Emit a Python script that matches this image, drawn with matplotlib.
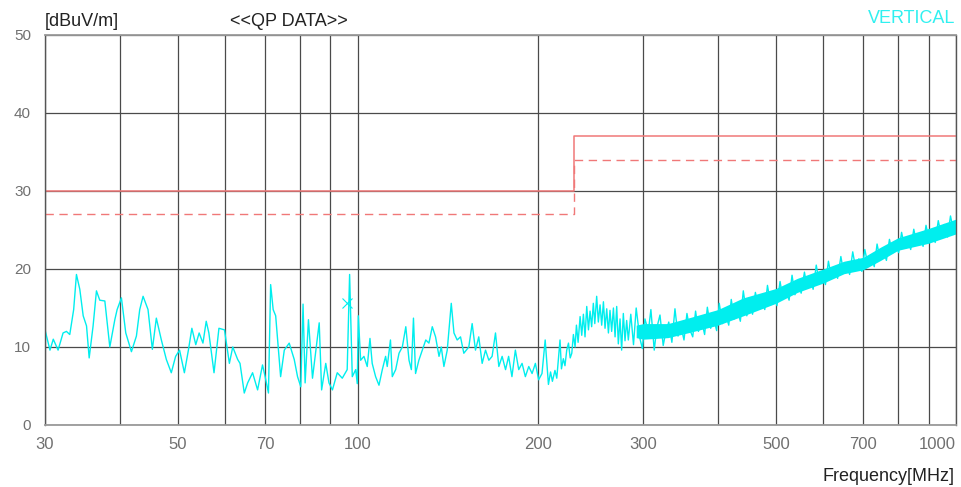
#!/usr/bin/env python3
"""EMI radiated emission plot, QP data, vertical polarisation."""

import matplotlib
matplotlib.use("Agg")
import matplotlib.pyplot as plt

plt.rcParams['font.family'] = ['Liberation Sans', 'DejaVu Sans']

# limit lines (class B style): solid = limit, dashed = margin
limit_freq = [30, 230, 230, 1000]
limit_level = [30, 30, 37, 37]
margin_level = [27, 27, 34, 34]

# measured trace, 30 - 100 MHz
low_freq = [30.0, 30.58, 30.97, 31.55, 32.16, 32.58, 33.0, 33.5, 33.86, 34.3,
            34.75, 35.2, 35.56, 36.1, 36.57, 37.04, 37.77, 38.5, 39.25, 39.6,
            40.26, 40.94, 41.84, 42.65, 43.2, 43.76, 44.6, 45.35, 46.05, 46.95,
            47.86, 48.78, 49.6, 50.36, 51.3, 52.1, 52.8, 53.6, 54.3, 55.1,
            55.8, 56.37, 57.5, 58.6, 59.86, 61.0, 61.8, 62.98, 63.55, 64.6,
            65.45, 66.7, 68.0, 69.3, 70.0, 70.9, 71.5, 72.2, 72.9, 74.3,
            75.36, 76.8, 78.3, 79.3, 80.3, 81.0, 81.65, 82.7, 84.0, 85.1,
            86.2, 87.0, 88.4, 89.5, 90.7, 92.4, 94.2, 96.0, 96.9, 97.9,
            99.2]
low_level = [12.2, 9.6, 11.0, 9.6, 11.8, 12.0, 11.6, 14.8, 19.3, 17.4,
             14.0, 12.7, 8.6, 12.7, 17.2, 16.0, 15.9, 10.0, 13.5, 14.8,
             16.3, 11.8, 9.4, 11.4, 14.8, 16.5, 14.8, 9.7, 13.7, 10.9,
             8.4, 6.7, 8.8, 9.6, 6.7, 9.6, 12.4, 10.3, 11.8, 10.5,
             13.3, 11.8, 6.7, 12.4, 12.2, 7.9, 10.0, 8.4, 7.9, 4.1,
             5.4, 6.7, 4.5, 7.7, 6.2, 4.1, 18.0, 14.8, 14.0, 6.2,
             9.6, 10.5, 8.4, 6.2, 4.9, 15.5, 5.4, 13.5, 6.0, 9.6,
             13.1, 4.5, 7.9, 5.4, 4.5, 6.7, 6.0, 7.1, 19.3, 6.2,
             7.1]

# measured trace, 100 - 285 MHz
mid_freq = [99.8, 100.2, 101.1, 102.4, 103.7, 104.8, 105.7, 107.1, 108.5, 109.9,
            111.3, 112.0, 113.4, 114.2, 115.7, 117.2, 118.7, 120.3, 121.8, 122.9,
            123.9, 124.9, 126.5, 128.2, 129.9, 131.5, 133.2, 134.9, 136.7, 137.9,
            139.3, 141.1, 143.3, 144.8, 146.6, 148.5, 150.4, 153.3, 155.3, 157.3,
            159.3, 161.4, 163.5, 165.6, 167.7, 169.9, 172.1, 174.3, 176.6, 178.7,
            181.0, 183.4, 185.8, 188.2, 190.6, 193.1, 195.6, 198.1, 200.6, 203.2,
            205.7, 208.3, 210.0, 211.5, 213.6, 215.1, 217.8, 219.0, 220.6, 222.0,
            223.5, 225.0, 226.5, 227.9, 229.3, 230.8, 232.0, 233.5, 235.3, 236.8,
            238.3, 239.8, 241.4, 243.0, 244.5, 246.0, 247.6, 249.0, 250.8, 252.4,
            254.1, 255.7, 257.4, 259.0, 260.7, 262.4, 264.0, 265.7, 267.5, 269.2,
            270.9, 272.6, 274.4, 276.1, 277.9, 279.7, 281.5, 283.3]
mid_level = [5.3, 14.0, 8.3, 8.8, 7.5, 11.1, 7.9, 6.2, 5.1, 7.1,
             8.8, 7.5, 10.9, 6.2, 7.1, 9.2, 10.0, 12.6, 8.3, 7.1,
             13.7, 6.6, 8.3, 9.6, 10.9, 10.5, 12.6, 11.3, 8.8, 10.0,
             7.5, 9.6, 15.6, 11.8, 10.9, 11.3, 9.2, 10.0, 13.0, 9.6,
             11.3, 7.9, 9.6, 8.3, 8.8, 11.8, 7.5, 8.8, 7.1, 8.8,
             6.2, 9.6, 7.1, 7.9, 6.2, 7.5, 6.6, 7.9, 5.8, 6.6,
             10.9, 5.2, 6.8, 5.6, 7.0, 6.0, 10.9, 7.2, 8.5, 7.6,
             9.6, 10.5, 8.6, 9.2, 11.6, 10.0, 12.8, 10.6, 13.9, 11.5,
             14.2, 11.3, 15.2, 12.2, 14.6, 12.6, 15.6, 13.0, 16.5, 13.2,
             15.4, 12.8, 15.8, 12.4, 14.9, 11.8, 14.7, 12.0, 15.0, 11.3,
             15.2, 10.4, 13.6, 9.6, 14.3, 10.8, 13.4, 10.9]

# measured trace, 285 - 1000 MHz (dense noise band)
band_freq = [286, 289, 292, 296, 299, 302, 306, 309, 313, 316, 320, 324, 327, 331,
             335, 339, 343, 347, 351, 355, 359, 363, 367, 371, 376, 380, 384, 389,
             393, 398, 402, 407, 412, 417, 421, 426, 431, 436, 441, 447, 452, 457,
             462, 468, 473, 479, 484, 490, 496, 502, 508, 514, 520, 526, 532, 538,
             545, 551, 558, 564, 571, 577, 584, 591, 598, 605, 612, 619, 627, 634,
             642, 649, 657, 664, 672, 680, 688, 696, 704, 713, 721, 730, 738, 747,
             756, 765, 774, 783, 792, 802, 811, 821, 830, 840, 850, 860, 870, 881,
             891, 902, 912, 923, 934, 945, 956, 968, 979, 991, 1000]
band_level = [14.2, 10.3, 15.0, 11.2, 9.8, 13.6, 12.0, 14.8, 9.6, 12.4, 14.1, 10.2, 11.8, 13.2,
              10.6, 14.9, 11.4, 12.6, 10.9, 14.3, 12.2, 11.3, 14.6, 12.0, 13.2, 11.6, 15.1, 12.4,
              13.8, 12.1, 15.6, 13.0, 14.2, 12.8, 16.1, 13.6, 14.8, 13.3, 17.2, 14.0, 15.6, 14.2,
              17.0, 15.0, 16.0, 14.8, 17.9, 15.4, 16.9, 15.3, 18.4, 16.1, 17.2, 16.0, 19.2, 16.7,
              18.0, 16.9, 19.6, 17.6, 18.8, 17.4, 20.5, 18.1, 19.6, 18.0, 21.0, 18.9, 20.2, 18.8,
              21.6, 19.5, 20.8, 19.3, 22.2, 20.0, 21.3, 19.7, 22.5, 20.4, 21.8, 20.3, 23.2, 21.2,
              22.4, 21.1, 23.8, 22.0, 23.2, 22.1, 24.7, 22.7, 23.9, 22.5, 25.1, 23.2, 24.4, 22.9,
              25.6, 23.6, 25.0, 23.4, 26.2, 24.3, 25.7, 24.1, 26.8, 24.8, 26.0]

# solid core of the noise band
core_freq = [292, 300, 330, 360, 400, 441, 500, 543, 600, 650, 700, 748, 800, 900, 1000]
core_lo = [11.2, 11.0, 11.2, 11.9, 12.8, 14.0, 15.6, 17.0, 18.2, 19.4, 19.9, 21.1, 22.4, 23.3, 24.5]
core_hi = [12.8, 13.0, 13.0, 13.8, 14.8, 16.3, 17.5, 18.8, 20.0, 21.0, 21.5, 22.8, 24.0, 25.2, 26.4]

# QP marker
marker_freq = [96.0]
marker_level = [15.6]

grid_freq = [30, 40, 50, 60, 70, 80, 90, 100, 200, 300, 400, 500, 600, 700, 800, 900, 1000]
labelled_freq = [30, 50, 70, 100, 200, 300, 500, 700, 1000]
y_ticks = [0, 10, 20, 30, 40, 50]

TRACE = '#00eeee'
LIMIT = '#f07878'


def main():
    fig = plt.figure(figsize=(9.61, 4.87), dpi=100)
    ax = fig.add_axes([45 / 961, 62 / 487, 911 / 961, 390 / 487])

    ax.set_xscale('log')
    ax.set_xlim(30, 1000)
    ax.set_ylim(0, 50)

    ax.set_xticks(grid_freq)
    ax.set_xticklabels([str(f) if f in labelled_freq else '' for f in grid_freq])
    ax.xaxis.set_minor_locator(plt.NullLocator())
    ax.set_yticks(y_ticks)
    ax.tick_params(axis='x', length=0, pad=8.5, labelsize=12, labelcolor='#707070')
    ax.tick_params(axis='y', length=0, pad=10, labelsize=11, labelcolor='#707070')
    # the last frequency label sits inside the frame
    ax.get_xticklabels()[-1].set_horizontalalignment('right')
    ax.grid(True, color='#4a4a4a', lw=0.9)
    ax.set_axisbelow(True)

    for side in ['top', 'bottom']:
        ax.spines[side].set_color('#9a9a9a')
        ax.spines[side].set_linewidth(1.3)
    for side in ['left', 'right']:
        ax.spines[side].set_color('#555555')
        ax.spines[side].set_linewidth(1.0)

    ax.plot(limit_freq, limit_level, color=LIMIT, lw=1.1)
    ax.plot(limit_freq, margin_level, color=LIMIT, lw=1.0, ls=(0, (6, 4)))

    ax.fill_between(core_freq, core_lo, core_hi, color=TRACE, lw=0)
    ax.plot(low_freq + mid_freq + band_freq, low_level + mid_level + band_level,
            color=TRACE, lw=1.0)
    ax.plot(marker_freq, marker_level, 'x', color=TRACE, ms=7, mew=0.8)

    fig.text(45 / 961, 1 - 26.5 / 487, '[dBuV/m]', fontsize=13, color='#222222', va='baseline')
    fig.text(230 / 961, 1 - 26.5 / 487, '<<QP DATA>>', fontsize=13, color='#222222', va='baseline')
    fig.text(955 / 961, 1 - 23 / 487, 'VERTICAL', fontsize=13, color='#30f0f0',
             ha='right', va='baseline')
    fig.text(955 / 961, 1 - 481 / 487, 'Frequency[MHz]', fontsize=13, color='#222222',
             ha='right', va='baseline')

    fig.savefig('out.png', dpi=100)
    plt.close(fig)


if __name__ == "__main__":
    main()
